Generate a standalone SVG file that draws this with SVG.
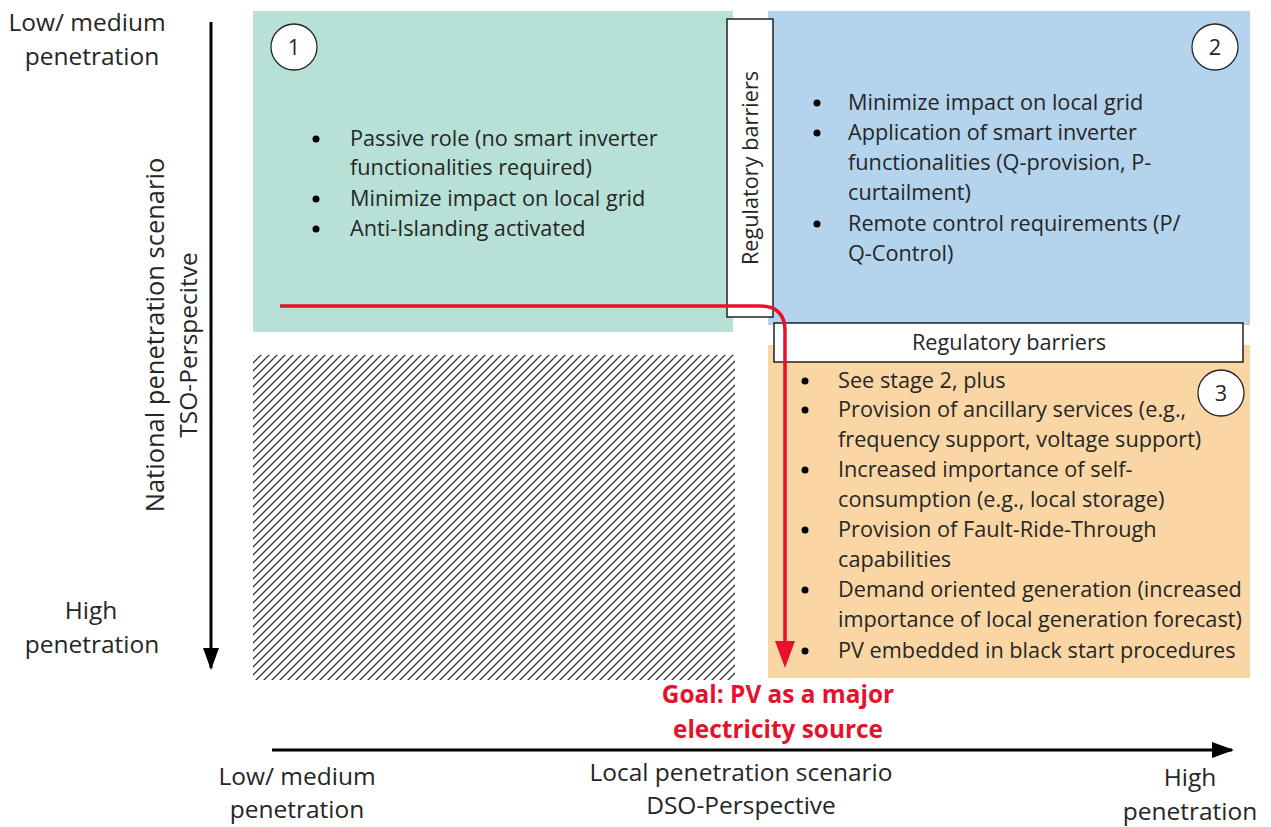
<svg xmlns="http://www.w3.org/2000/svg" width="1271" height="827" viewBox="0 0 1271 827">
<style>
.t{font-family:"Open Sans","Liberation Sans",sans-serif;font-size:21.7px;fill:#262626}
.a{font-family:"Open Sans","Liberation Sans",sans-serif;font-size:24.5px;fill:#262626;text-anchor:middle}
.c{text-anchor:middle}
.g{font-family:"Open Sans","Liberation Sans",sans-serif;font-size:24.4px;font-weight:bold;fill:#e8112d;text-anchor:middle}
.circ{fill:#fff;stroke:#262626;stroke-width:1.3}
.bar{fill:#fff;stroke:#000;stroke-width:1.3}
.ax{stroke:#000;stroke-width:3;fill:none}
</style>
<defs>
<pattern id="hatch" patternUnits="userSpaceOnUse" width="8" height="8">
<path d="M0,8 L8,0 M-2,2 L2,-2 M6,10 L10,6" stroke="#333" stroke-width="1.3"/>
</pattern>
<marker id="ah" markerWidth="22" markerHeight="16" viewBox="0 0 22 16" refX="20" refY="8" orient="auto" markerUnits="userSpaceOnUse">
<path d="M0,0 L22,8 L0,16 Z" fill="#000"/>
</marker>
</defs>
<rect width="1271" height="827" fill="#fff"/>

<g id="quadrant1">
<rect x="253" y="11" width="480" height="321" fill="#b7e1d7"/>
<circle class="circ" cx="294" cy="47" r="23"/>
<text class="t c" x="294" y="55">1</text>
<circle cx="316" cy="139" r="3.5" fill="#000"/>
<circle cx="316" cy="199" r="3.5" fill="#000"/>
<circle cx="316" cy="229" r="3.5" fill="#000"/>
<text class="t" x="350" y="146">Passive role (no smart inverter</text>
<text class="t" x="350" y="175">functionalities required)</text>
<text class="t" x="350" y="206">Minimize impact on local grid</text>
<text class="t" x="350" y="236">Anti-Islanding activated</text>
</g>

<g id="quadrant2">
<rect x="768" y="11" width="482" height="314" fill="#b4d3ec"/>
<circle class="circ" cx="1215" cy="47" r="23"/>
<text class="t c" x="1215" y="55">2</text>
<circle cx="817" cy="103" r="3.5" fill="#000"/>
<circle cx="817" cy="133" r="3.5" fill="#000"/>
<circle cx="817" cy="224" r="3.5" fill="#000"/>
<text class="t" x="848" y="110">Minimize impact on local grid</text>
<text class="t" x="848" y="140">Application of smart inverter</text>
<text class="t" x="848" y="170">functionalities (Q-provision, P-</text>
<text class="t" x="848" y="200">curtailment)</text>
<text class="t" x="848" y="231">Remote control requirements (P/</text>
<text class="t" x="848" y="261">Q-Control)</text>
</g>

<g id="quadrant3">
<rect x="768" y="345" width="482" height="333" fill="#f9d6a4"/>
<circle class="circ" cx="1221" cy="393" r="23"/>
<text class="t c" x="1221" y="401">3</text>
<circle cx="805" cy="381" r="3.5" fill="#000"/>
<circle cx="805" cy="410" r="3.5" fill="#000"/>
<circle cx="805" cy="470" r="3.5" fill="#000"/>
<circle cx="805" cy="530" r="3.5" fill="#000"/>
<circle cx="805" cy="590" r="3.5" fill="#000"/>
<circle cx="805" cy="651" r="3.5" fill="#000"/>
<text class="t" x="838" y="388">See stage 2, plus</text>
<text class="t" x="838" y="417">Provision of ancillary services (e.g.,</text>
<text class="t" x="838" y="447">frequency support, voltage support)</text>
<text class="t" x="838" y="477">Increased importance of self-</text>
<text class="t" x="838" y="507">consumption (e.g., local storage)</text>
<text class="t" x="838" y="537">Provision of Fault-Ride-Through</text>
<text class="t" x="838" y="567">capabilities</text>
<text class="t" x="838" y="597">Demand oriented generation (increased</text>
<text class="t" x="838" y="627">importance of local generation forecast)</text>
<text class="t" x="838" y="658">PV embedded in black start procedures</text>
</g>

<g id="hatched">
<rect x="253" y="355" width="482" height="325" fill="url(#hatch)"/>
</g>

<g id="barrier-vertical">
<rect class="bar" x="727" y="19" width="46" height="298"/>
<text class="t c" transform="translate(758,168) rotate(-90)">Regulatory barriers</text>
</g>

<g id="barrier-horizontal">
<rect class="bar" x="774" y="323" width="469" height="39"/>
<text class="t c" x="1009" y="350">Regulatory barriers</text>
</g>

<g id="connectors">
<line class="ax" x1="211" y1="22" x2="211" y2="668" marker-end="url(#ah)"/>
<line class="ax" x1="272" y1="750" x2="1232" y2="750" marker-end="url(#ah)"/>
<path d="M280,306 L760,306 Q785,306 785,331 L785,645" fill="none" stroke="#e8112d" stroke-width="3.5"/>
<path d="M775,641 L795,641 L785,668 Z" fill="#e8112d"/>
</g>

<g id="labels">
<text class="a" x="87" y="31">Low/ medium</text>
<text class="a" x="92" y="65">penetration</text>
<text class="a" x="91" y="619">High</text>
<text class="a" x="92" y="653">penetration</text>
<text class="a" transform="translate(164,335) rotate(-90)" style="font-size:25.5px">National penetration scenario</text>
<text class="a" transform="translate(197,345) rotate(-90)">TSO-Perspecitve</text>
<text class="a" x="297" y="785">Low/ medium</text>
<text class="a" x="297" y="818">penetration</text>
<text class="a" x="741" y="781">Local penetration scenario</text>
<text class="a" x="741" y="814">DSO-Perspective</text>
<text class="a" x="1190" y="786">High</text>
<text class="a" x="1190" y="820">penetration</text>
<text class="g" x="778" y="703">Goal: PV as a major</text>
<text class="g" x="778" y="738">electricity source</text>
</g>
</svg>
